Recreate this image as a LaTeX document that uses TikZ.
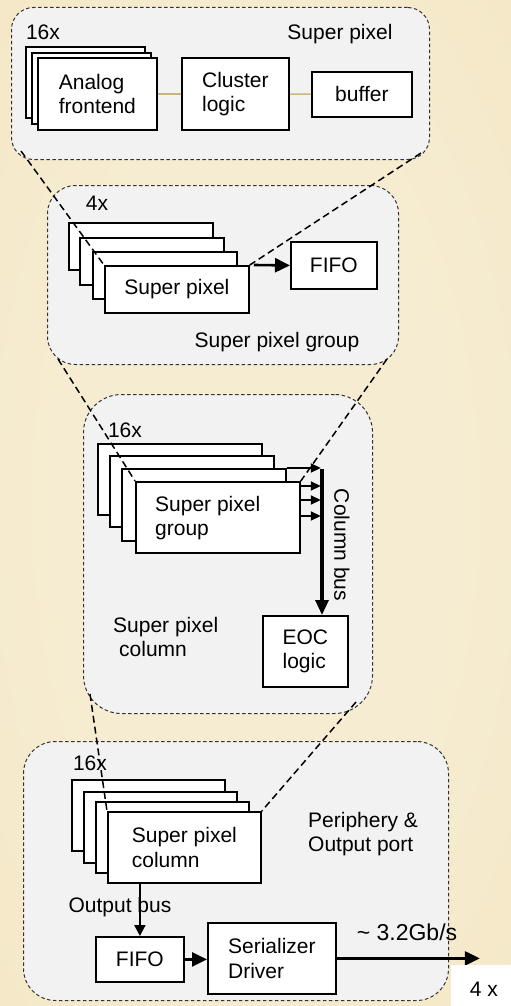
\documentclass[tikz,border=0pt]{standalone}
\usepackage{fontspec}
\setmainfont{Liberation Sans}
\usetikzlibrary{arrows.meta,calc}
\definecolor{bgin}{HTML}{F6ECD1}
\definecolor{bgout}{HTML}{F0DFB1}
\definecolor{panelfill}{HTML}{F2F2F2}
\definecolor{tanline}{HTML}{C9B57C}
\pgfdeclareradialshading{bgshade}{\pgfpoint{0bp}{0bp}}{color(0bp)=(bgin); color(20bp)=(bgin); color(70bp)=(bgout)}
\newcommand{\mybox}[7][blk]{\node[#1,anchor=north west,minimum width={(#5-#3)*1pt},minimum height={(#6-#4)*1pt}] (#2) at (#3,#4) {#7};}
\begin{document}
\begin{tikzpicture}[x=1pt,y=-1pt,
  every node/.style={font=\fontsize{21}{24.5}\selectfont, inner sep=0pt},
  panel/.style={draw=black!80, line width=1pt, dash pattern=on 3.5pt off 2.5pt, fill=panelfill},
  blk/.style={draw=black, fill=white, line width=1.8pt, align=left},
  zoomline/.style={line width=1.5pt, dash pattern=on 7pt off 4pt},
  bigarrow/.style={line width=2.6pt, -{Triangle[length=15pt,width=14pt]}},
  midarrow/.style={line width=2pt, -{Triangle[length=11pt,width=11pt]}},
  smallarrow/.style={line width=1.8pt, -{Triangle[length=10pt,width=9pt]}},
  lbl/.style={anchor=base}
]
\useasboundingbox (0,0) rectangle (511,1006);
\shade[shading=bgshade] (0,0) rectangle (511,1006);

% ---------- Panel 1: Super pixel
\mybox[panel,rounded corners=22pt]{p1}{11}{7}{429}{159}{}
\node[lbl] (p1n) at (43,40) {16x};
\node[lbl] (p1t) at (340,40) {Super pixel};
\mybox{af3}{25}{46}{144}{117}{}
\mybox{af2}{31}{52}{150}{123}{}
\mybox{af1}{37}{57}{156}{129}{Analog\\frontend}
\mybox{cl}{181}{57}{288}{129}{Cluster\\logic}
\mybox{buf}{311}{71}{411}{116}{buffer}
\draw[tanline, line width=1.6pt] (af1) -- (cl);
\draw[tanline, line width=1.6pt] (cl) -- (buf);

% ---------- Panel 2: Super pixel group
\mybox[panel,rounded corners=28pt]{p2}{47}{185}{398}{364}{}
\node[lbl] (p2n) at (97,210) {4x};
\node[lbl] (p2t) at (277,347) {Super pixel group};
\mybox{sp4}{68}{222}{212}{269}{}
\mybox{sp3}{79}{237}{223}{284}{}
\mybox{sp2}{92}{251}{236}{298}{}
\mybox{sp1}{104}{265}{248}{312}{Super pixel}
\mybox{fifoa}{290}{241}{376}{288}{FIFO}
\draw[bigarrow] ([xshift=4pt]sp1.north east) -- (fifoa.west);

% ---------- Panel 3: Super pixel column
\mybox[panel,rounded corners=38pt]{p3}{83}{394}{372}{713}{}
\node[lbl] (p3n) at (125,437) {16x};
\mybox{g4}{97}{443}{261}{514}{}
\mybox{g3}{109}{455}{273}{526}{}
\mybox{g2}{121}{468}{285}{540}{}
\mybox{g1}{135}{481}{299}{552}{}
\node[anchor=north west, align=left] (g1t) at (155,496) {Super pixel\\group};
\mybox{eoc}{262}{615}{347}{686}{EOC\\logic}
\coordinate (bustop) at (322,469);
\draw[line width=3.3pt, -{Triangle[length=15pt,width=13pt]}] (bustop) -- (bustop |- eoc.north);
\draw[smallarrow] (g2.north east) -- ++(34,0);
\draw[smallarrow] ([yshift=-5pt]g1.north east) -- ++(20,0);
\draw[smallarrow] ([yshift=-19pt]g1.north east) -- ++(20,0);
\draw[smallarrow] ([yshift=-35pt]g1.north east) -- ++(20,0);
\node[rotate=-90] (cbus) at (342,545) {Column bus};
\node[anchor=north west, align=left] (p3t) at (113,617) {Super pixel\\\hspace{6pt}column};

% ---------- Panel 4: Periphery & Output port
\mybox[panel,rounded corners=32pt]{p4}{23}{741}{448}{1000}{}
\node[lbl] (p4n) at (90,770) {16x};
\mybox{c4}{71}{779}{224}{850}{}
\mybox{c3}{83}{791}{236}{862}{}
\mybox{c2}{95}{801}{248}{872}{}
\mybox{c1}{107}{811}{260}{882}{Super pixel\\column}
\node[anchor=north west, align=left] (p4t) at (308,812) {Periphery \&\\Output port};
\mybox{fifob}{95}{936}{183}{981}{FIFO}
\mybox{ser}{207}{922}{335}{993}{Serializer\\Driver}
\draw[midarrow] (fifob.north |- c1.south) -- (fifob.north);
\node[lbl] (obus) at (120,912) {Output bus};
\draw[bigarrow] (fifob.east) -- (fifob.east -| ser.west);
\draw[bigarrow] (ser.east) -- ++(143,0);
\node[lbl, font=\fontsize{23}{27}\selectfont] (rate) at (407,940) {\textasciitilde\ 3.2Gb/s};
\node[fill=white, anchor=north west, minimum width=60pt, minimum height=41pt] (fourxbox) at (451,965) {};
\node[lbl] (fourx) at (484,996) {4 x};

% ---------- zoom lines
\draw[zoomline] ($(p1.south west)+(10,-9)$) -- (sp1.north west);
\draw[zoomline] ($(p1.south east)+(-9,-7)$) -- (sp1.north east);
\draw[zoomline] ($(p2.south west)+(11,-6)$) -- (g1.north west);
\draw[zoomline] ($(p2.south east)+(-12,-6)$) -- (g1.north east);
\draw[zoomline] ($(p3.south west)+(7,-20)$) -- (c1.north west);
\draw[zoomline] ($(p3.south east)+(-17,-12)$) -- (c1.north east);
\end{tikzpicture}
\end{document}
